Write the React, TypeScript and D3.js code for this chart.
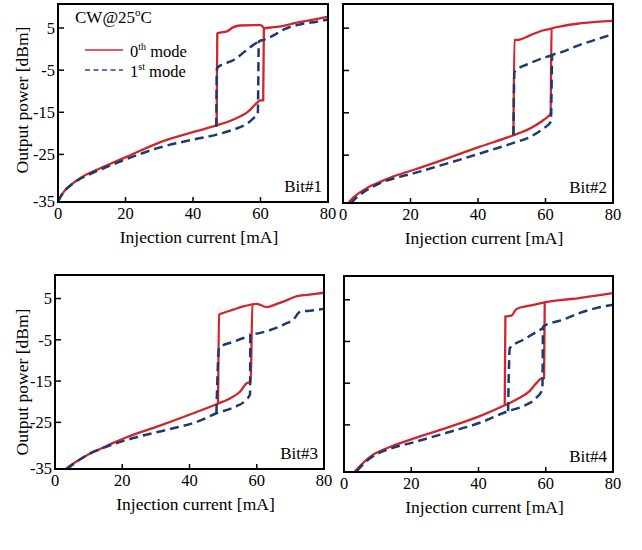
import * as d3 from "d3";

// tick values shared by every panel
const xTicks = [0, 20, 40, 60, 80];
const yTicks = [5, -5, -15, -25, -35];
const xDomain: [number, number] = [0, 80];
const yDomain: [number, number] = [-36.3, 10.7];

// [current mA, power dBm]; "Up" = sweep following the lower branch, "Loop" = upper part of the hysteresis
const bit1Mode0Up = [[0, -36.2], [0.8, -35], [2, -33.6], [4, -32.1], [7, -30.4], [10.5, -29], [15, -27.4], [20.8, -25.4], [30, -22.2], [41, -19.5], [47, -18.1], [52, -16.7], [56.4, -14.8], [58.9, -12.8], [60, -12.2], [60.8, -12.2], [61, 4.9], [63.8, 5.2], [66.8, 5.5], [69.7, 6.1], [73.7, 6.7], [77.6, 7.3], [80, 7.7]];
const bit1Mode0Loop = [[47, -18.1], [47.2, 3.7], [48, 3.9], [50, 4.2], [52, 5.2], [54, 5.6], [58, 5.7], [60, 5.7], [61, 5.0]];
const bit1Mode1Up = [[0, -36.2], [0.8, -35], [2, -33.6], [4, -32.2], [7, -30.6], [10.5, -29.3], [15, -27.8], [20, -26.2], [30, -23.4], [40, -21.5], [47, -20.3], [52, -19.1], [56, -17.7], [58.5, -16], [59.2, -15.5], [59.5, 1.8], [61, 2.2], [64, 3.3], [67, 4.7], [72, 5.9], [76.6, 6.5], [80, 7.0]];
const bit1Mode1Loop = [[46.9, -18.5], [47.1, -4.5], [52, -2.6], [57.9, 1.0], [59.5, 1.8]];

const bit2Mode0Up = [[1.5, -36.4], [2.8, -35.2], [4.5, -34.1], [7, -32.8], [11, -31.3], [15, -30], [20.8, -28.5], [30.7, -25.8], [40.6, -23], [50.5, -20.3], [55.4, -18.7], [59.4, -16.7], [61.5, -15.2], [61.8, 4.9], [65, 5.5], [70, 6.1], [75, 6.5], [80, 6.7]];
const bit2Mode0Loop = [[50.5, -20.3], [50.8, 2.2], [52.4, 2.3], [55.4, 3.3], [59.4, 4.5], [61.8, 4.9]];
const bit2Mode1Up = [[2.3, -36.4], [3.6, -35.3], [5.3, -34.2], [8, -32.8], [11, -31.6], [15, -30.5], [20.8, -29.3], [30.7, -27], [40.6, -24.6], [50.5, -22.1], [55.4, -20.7], [59.4, -18.7], [61.6, -17.1], [62, -1.4], [65, -0.6], [70, 1.0], [75, 2.3], [80, 3.6]];
const bit2Mode1Loop = [[50.5, -20.3], [50.8, -5.3], [55.4, -3.3], [60.3, -1.8], [62, -1.4]];

const bit3Mode0Up = [[3, -36.4], [4.8, -35.3], [7.4, -34], [10, -32.7], [13, -31.6], [17, -30.1], [21.3, -28.6], [31.2, -25.8], [41.1, -22.8], [48, -20.6], [52, -19.2], [55, -17.6], [57, -15.5], [58.2, -15.2], [58.7, 3.6], [60, 3.7], [63, 2.9], [66, 3.7], [69, 4.6], [72, 5.6], [75, 5.9], [80, 6.4]];
const bit3Mode0Loop = [[48.5, -20.4], [48.8, 1.1], [50, 1.5], [53, 2.3], [56, 3.1], [58.7, 3.6]];
const bit3Mode1Up = [[3.5, -36.4], [5.3, -35.2], [8, -33.7], [11, -32.3], [15, -31], [23.3, -28.8], [33.2, -26.8], [43.1, -24.6], [48, -22.8], [53, -21.4], [57, -19.4], [58, -18.2], [58.1, -3.7], [60, -3.5], [63, -2.9], [68, -1.3], [71.3, 0.3], [72.5, 1.6], [73.5, 1.9], [75, 2.0], [80, 2.5]];
const bit3Mode1Loop = [[48, -22.8], [48.8, -6.9], [53, -5.5], [58.1, -4.0]];

const bit4Mode0Up = [[3.3, -36.1], [4.8, -34.8], [6.5, -33.5], [9, -32], [12.7, -30.6], [20.6, -28.3], [30.5, -25.7], [40.4, -22.9], [47.8, -20.3], [51.3, -18.9], [55.2, -16.9], [57.2, -15], [58.9, -13.8], [59.5, -13.8], [59.7, 4.4], [65.1, 5.0], [70, 5.4], [75, 6.0], [80, 6.6]];
const bit4Mode0Loop = [[47.8, -20.3], [48, 1.0], [49.8, 1.2], [51.3, 2.8], [55.2, 3.6], [59.7, 4.4]];
const bit4Mode1Up = [[3.8, -36.1], [5.3, -34.8], [7, -33.5], [9.5, -32.1], [13, -30.9], [20.6, -29.2], [30.5, -26.9], [40.4, -24.5], [48.8, -21.7], [53.3, -20.5], [57.2, -18.5], [59, -16.5], [59.2, -1.4], [65.1, 0.2], [70, 1.8], [75, 3.0], [80, 3.8]];
const bit4Mode1Loop = [[48.8, -21.7], [49.3, -6.6], [53.3, -4.6], [59.2, -1.8]];

const panels = [
  { label: "Bit#1", left: 58, right: 328, top: 4, bottom: 202, yLabels: true, mode0: [bit1Mode0Up, bit1Mode0Loop], mode1: [bit1Mode1Up, bit1Mode1Loop] },
  { label: "Bit#2", left: 343, right: 613, top: 4, bottom: 203, yLabels: false, mode0: [bit2Mode0Up, bit2Mode0Loop], mode1: [bit2Mode1Up, bit2Mode1Loop] },
  { label: "Bit#3", left: 55, right: 324, top: 275, bottom: 469, yLabels: true, mode0: [bit3Mode0Up, bit3Mode0Loop], mode1: [bit3Mode1Up, bit3Mode1Loop] },
  { label: "Bit#4", left: 344, right: 613, top: 276, bottom: 472, yLabels: false, mode0: [bit4Mode0Up, bit4Mode0Loop], mode1: [bit4Mode1Up, bit4Mode1Loop] },
];

const RED = "#d0262b";
const NAVY = "#1d3a6e";
const FONT = "Liberation Serif";

function Panel({ p }: { p: (typeof panels)[number] }) {
  const x = d3.scaleLinear().domain(xDomain).range([p.left, p.right]);
  const y = d3.scaleLinear().domain(yDomain).range([p.bottom, p.top]);
  const line = d3
    .line<number[]>()
    .x((d) => x(d[0]))
    .y((d) => y(d[1]))
    .curve(d3.curveMonotoneX);
  const cx = (p.left + p.right) / 2;

  return (
    <g>
      {p.mode0.map((d, i) => (
        <path key={"r" + i} d={line(d) || ""} fill="none" stroke={RED} strokeWidth={2.3} />
      ))}
      {p.mode1.map((d, i) => (
        <path key={"b" + i} d={line(d) || ""} fill="none" stroke={NAVY} strokeWidth={2.5} strokeDasharray="9,5" />
      ))}
      <rect x={p.left} y={p.top} width={p.right - p.left} height={p.bottom - p.top} fill="none" stroke="#000" strokeWidth={2} />
      {yTicks.slice(0, 4).map((t) => (
        <line key={t} x1={p.left} x2={p.left + 6} y1={y(t)} y2={y(t)} stroke="#000" strokeWidth={1.5} />
      ))}
      {xTicks.slice(1, 4).map((t) => (
        <line key={t} x1={x(t)} x2={x(t)} y1={p.bottom} y2={p.bottom - 5} stroke="#000" strokeWidth={1.5} />
      ))}
      {p.yLabels &&
        yTicks.map((t) => (
          <text key={t} x={p.left - 3} y={t === -35 ? p.bottom - 1 : y(t)} dy="0.35em" textAnchor="end" fontSize={16.5}>
            {t}
          </text>
        ))}
      {xTicks.map((t) => (
        <text key={t} x={x(t)} y={p.bottom + 17} textAnchor="middle" fontSize={16.5}>
          {t}
        </text>
      ))}
      <text x={cx + 6} y={p.bottom + 41} textAnchor="middle" fontSize={17.5}>
        Injection current [mA]
      </text>
      <text x={p.right - 6} y={p.bottom - 10} textAnchor="end" fontSize={17}>
        {p.label}
      </text>
    </g>
  );
}

export default function App() {
  return (
    <svg width={642} height={550} style={{ position: "absolute", left: 0, top: 0, background: "#fff", fontFamily: FONT }}>
      {panels.map((p) => (
        <Panel key={p.label} p={p} />
      ))}
      <text transform="translate(22,100) rotate(-90)" textAnchor="middle" dy="0.35em" fontSize={17.5}>
        Output power [dBm]
      </text>
      <text transform="translate(22,382) rotate(-90)" textAnchor="middle" dy="0.35em" fontSize={17.5}>
        Output power [dBm]
      </text>
      <text x={75} y={23} fontSize={17}>
        CW@25<tspan dy={-7} fontSize={11}>o</tspan>
        <tspan dy={7}>C</tspan>
      </text>
      <line x1={85} x2={123} y1={50} y2={50} stroke={RED} strokeWidth={1.6} />
      <text x={130} y={57} fontSize={16.5}>
        0<tspan dy={-7} fontSize={10}>th</tspan>
        <tspan dy={7}> mode</tspan>
      </text>
      <line x1={85} x2={123} y1={70} y2={70} stroke="#3434c8" strokeWidth={1.6} strokeDasharray="5,3.5" />
      <text x={130} y={77} fontSize={16.5}>
        1<tspan dy={-7} fontSize={10}>st</tspan>
        <tspan dy={7}> mode</tspan>
      </text>
    </svg>
  );
}
